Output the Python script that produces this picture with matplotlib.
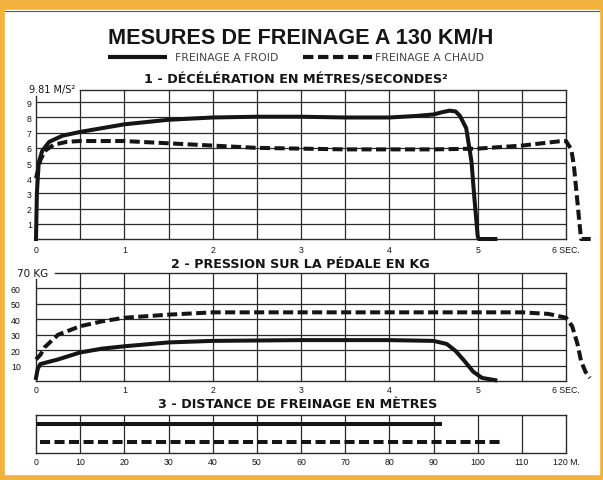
import matplotlib
matplotlib.use("Agg")
import matplotlib.pyplot as plt
from matplotlib.patches import Rectangle

W, H = 603, 481

# ---------------- data ----------------
title = "MESURES DE FREINAGE A 130 KM/H"
legend_labels = ["FREINAGE A FROID", "FREINAGE A CHAUD"]
section_titles = ["1 - DÉCÉLÉRATION EN MÉTRES/SECONDES²",
                  "2 - PRESSION SUR LA PÉDALE EN KG",
                  "3 - DISTANCE DE FREINAGE EN MÈTRES"]

# 1 - deceleration (m/s²) vs time (s)
decel_froid_t = [0, 0.01, 0.03, 0.07, 0.15, 0.3, 0.5, 0.75, 1.0, 1.5, 2.0, 2.5, 3.0,
                 3.5, 4.0, 4.3, 4.5, 4.6, 4.68, 4.75, 4.8, 4.87, 4.93, 4.96, 5.0, 5.01, 5.2]
decel_froid = [0, 3.0, 5.0, 5.8, 6.4, 6.8, 7.05, 7.3, 7.55, 7.85, 8.0, 8.05, 8.05,
               8.0, 8.0, 8.1, 8.2, 8.35, 8.45, 8.4, 8.1, 7.3, 5.1, 2.9, 0.2, 0, 0]
decel_chaud_t = [0, 0.05, 0.1, 0.2, 0.35, 0.5, 1.0, 1.5, 2.0, 2.5, 3.0, 3.5, 4.0, 4.5,
                 5.0, 5.5, 5.65, 5.95, 6.0, 6.06, 6.09, 6.12, 6.15, 6.17, 6.33]
decel_chaud = [4.0, 5.2, 5.8, 6.2, 6.4, 6.45, 6.45, 6.3, 6.15, 6.0, 5.95, 5.9, 5.9, 5.9,
               5.95, 6.15, 6.25, 6.45, 6.45, 5.9, 4.8, 3.0, 1.2, 0, 0]

# 2 - pedal pressure (kg) vs time (s)
press_froid_t = [0, 0.02, 0.05, 0.25, 0.5, 0.75, 1.0, 1.5, 2.0, 3.0, 3.5, 4.0, 4.5,
                 4.65, 4.75, 4.85, 4.95, 5.05, 5.2]
press_froid = [2, 8, 11, 14, 18.5, 21, 22.5, 25, 26, 26.5, 26.5, 26.5, 26,
               24, 19.5, 13, 6, 2, 0.5]
press_chaud_t = [0, 0.05, 0.1, 0.25, 0.5, 0.75, 1.0, 1.5, 2.0, 3.0, 4.0, 5.0, 5.5, 5.8,
                 6.0, 6.07, 6.13, 6.17, 6.22, 6.27]
press_chaud = [14, 17, 22, 30, 35.5, 38.7, 41, 43, 44.5, 44.5, 44.5, 44.5, 44.5, 43.5,
               41, 35.5, 24, 13, 6, 2]

# 3 - braking distance (m)
dist_froid = [0, 92]
dist_chaud = [1, 105.5]

time_ticks = [0, 1, 2, 3, 4, 5, 6]
time_labels = ["0", "1", "2", "3", "4", "5", "6 SEC."]
decel_ticks = [1, 2, 3, 4, 5, 6, 7, 8, 9]
decel_top_label = "9.81 M/S²"
press_ticks = [10, 20, 30, 40, 50, 60]
press_top_label = "70 KG"
dist_ticks = [0, 10, 20, 30, 40, 50, 60, 70, 80, 90, 100, 110, 120]
dist_labels = ["0", "10", "20", "30", "40", "50", "60", "70", "80", "90", "100", "110", "120 M."]

# ---------------- style ----------------
ORANGE = "#F1B23E"
INK = "#151515"
GRID = "#2a2a2a"
FONT = ["Liberation Sans", "DejaVu Sans"]
WIDE = ["DejaVu Sans"]
LW = 2.9
DASH = (0, (2.5, 1.1))
TICK_FS = 6.3

fig = plt.figure(figsize=(W / 100, H / 100), dpi=100)

bg = fig.add_axes([0, 0, 1, 1], zorder=-10)
bg.set_xlim(0, W)
bg.set_ylim(H, 0)
bg.axis("off")
bg.add_patch(Rectangle((0, 0), W, H, color=ORANGE))
bg.add_patch(Rectangle((5, 11), 594, 464, color="white"))
bg.plot([5, 599], [11.5, 11.5], color="#6b5a3a", lw=0.8)


def rect(x0, ytop, x1, ybot):
    return [x0 / W, 1 - ybot / H, (x1 - x0) / W, (ybot - ytop) / H]


def ftext(x, y, s, **kw):
    kw.setdefault("family", FONT)
    return fig.text(x / W, 1 - y / H, s, **kw)


# titles
ftext(301, 38, title, ha="center", va="center", fontsize=15.6, weight="bold", color=INK)
bg.plot([108, 167], [58, 58], color=INK, lw=3.0, solid_capstyle="butt")
ftext(175, 58, legend_labels[0], ha="left", va="center", fontsize=7.8, color="#444",
      family=WIDE)
bg.plot([303, 372], [58, 58], color=INK, lw=3.0, ls=DASH, dash_capstyle="butt")
ftext(375, 58, legend_labels[1], ha="left", va="center", fontsize=7.8, color="#444",
      family=WIDE)

for (cx, cy), s in zip([(296, 80), (300, 265), (298, 405)], section_titles):
    ftext(cx, cy, s, ha="center", va="center", fontsize=9.2, weight="bold", color=INK,
          family=WIDE)


def style_axes(ax, xlim, ylim):
    ax.set_xlim(*xlim)
    ax.set_ylim(*ylim)
    ax.set_facecolor("none")
    for s in ax.spines.values():
        s.set_color(GRID)
        s.set_linewidth(1.0)
    ax.tick_params(length=0, labelsize=TICK_FS, colors=INK)


# ---------- chart 1 ----------
ax1 = fig.add_axes(rect(36, 91, 566, 240))
style_axes(ax1, (0, 6), (0, 9.81))
ax1.set_xticks(time_ticks, time_labels, family=FONT)
ax1.set_yticks(decel_ticks, [str(v) for v in decel_ticks], family=FONT)
ax1.tick_params(axis="x", pad=4.5)
ax1.tick_params(axis="y", pad=3)
for v in decel_ticks:
    ax1.axhline(v, color=GRID, lw=0.9, zorder=1)
for k in range(1, 12):
    ax1.axvline(k * 0.5, color=GRID, lw=0.9, zorder=1)
ax1.spines["top"].set_visible(False)
ax1.spines["left"].set_bounds(0, 9.4)
ax1.plot([0.5, 6], [9.81, 9.81], color=GRID, lw=1.0, clip_on=False)
ax1.plot(decel_froid_t, decel_froid, color=INK, lw=LW, zorder=3, clip_on=False,
         solid_joinstyle="round")
ax1.plot(decel_chaud_t, decel_chaud, color=INK, lw=LW, ls=DASH, dash_capstyle="butt",
         zorder=3, clip_on=False)
ftext(52, 90, decel_top_label, ha="center", va="center", fontsize=7, color=INK,
      family=WIDE)

# ---------- chart 2 ----------
ax2 = fig.add_axes(rect(36, 274, 566, 382))
style_axes(ax2, (0, 6), (0, 70))
ax2.set_xticks(time_ticks, time_labels, family=FONT)
ax2.set_yticks(press_ticks, [str(v) for v in press_ticks], family=FONT)
ax2.tick_params(axis="x", pad=3)
ax2.tick_params(axis="y", pad=11)
for v in press_ticks:
    ax2.axhline(v, color=GRID, lw=0.9, zorder=1)
for k in range(1, 12):
    ax2.axvline(k * 0.5, color=GRID, lw=0.9, zorder=1)
ax2.spines["top"].set_visible(False)
ax2.spines["left"].set_bounds(0, 66)
ax2.plot([0.22, 6], [70, 70], color=GRID, lw=1.0, clip_on=False)
ax2.plot(press_froid_t, press_froid, color=INK, lw=LW, zorder=3, clip_on=False)
ax2.plot(press_chaud_t, press_chaud, color=INK, lw=LW, ls=DASH, dash_capstyle="butt",
         zorder=3, clip_on=False)
ftext(33, 274, press_top_label, ha="center", va="center", fontsize=7.5, color=INK,
      family=WIDE)

# ---------- chart 3 ----------
ax3 = fig.add_axes(rect(36, 416, 566, 454))
style_axes(ax3, (0, 120), (0, 1))
ax3.set_xticks(dist_ticks, dist_labels, family=FONT)
ax3.set_yticks([])
ax3.tick_params(axis="x", pad=3)
for v in dist_ticks[1:-1]:
    ax3.axvline(v, color=GRID, lw=0.9, zorder=1)
ax3.plot(dist_froid, [0.76, 0.76], color=INK, lw=LW, zorder=3, solid_capstyle="butt")
ax3.plot(dist_chaud, [0.29, 0.29], color=INK, lw=LW, ls=DASH, dash_capstyle="butt", zorder=3)

fig.savefig("out.png", dpi=100)
